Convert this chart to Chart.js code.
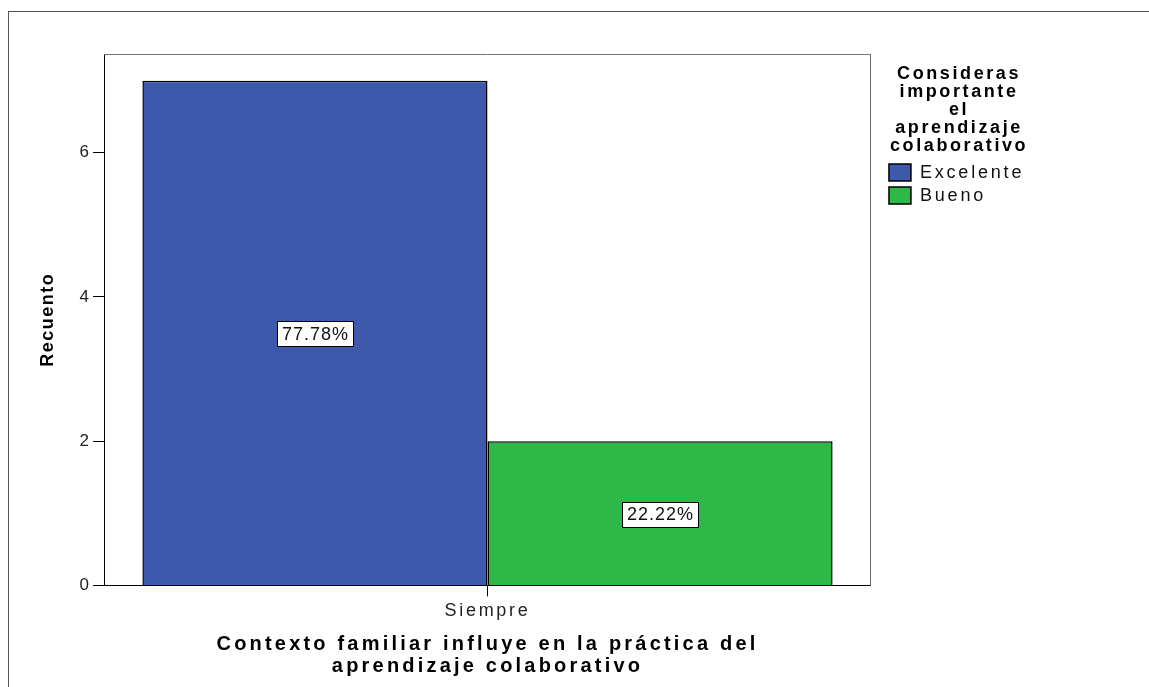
<!DOCTYPE html>
<html>
<head>
<meta charset="utf-8">
<style>
  html, body { margin: 0; padding: 0; background: #fff; overflow: hidden; }
  #frame { position: absolute; left: 8px; top: 11px; right: 0; bottom: 0;
           border-top: 1px solid #555; border-left: 1px solid #555; }
  #c { position: absolute; left: 0; top: 0; }
</style>
<script src="https://cdn.jsdelivr.net/npm/chart.js@4"></script>
</head>
<body>
<div id="frame"></div>
<canvas id="c" width="1149" height="687"></canvas>
<script>
// ---- data ----
const categories = ['Siempre'];
const seriesNames = ['Excelente', 'Bueno'];
const excelenteValues = [7];
const buenoValues = [2];
const yTickValues = [0, 2, 4, 6];
const yMax = 7.37;
const legendTitleLines = ['Consideras', 'importante', 'el', 'aprendizaje', 'colaborativo'];
const xTitleLines = ['Contexto familiar influye en la práctica del', 'aprendizaje colaborativo'];
const yTitleText = 'Recuento';
const seriesColors = ['#3E58AC', '#2EB848'];

// letter spacing helper: a pseudo family 'sp-N' in a font string sets N px tracking
(function () {
  const proto = CanvasRenderingContext2D.prototype;
  const d = Object.getOwnPropertyDescriptor(proto, 'font');
  Object.defineProperty(proto, 'font', {
    configurable: true,
    enumerable: d.enumerable,
    get() { return d.get.call(this); },
    set(v) {
      d.set.call(this, v);
      if ('letterSpacing' in this) {
        const m = /sp-([\d.]+)/.exec(v);
        this.letterSpacing = (m ? m[1] : '0') + 'px';
      }
    }
  });
})();
const fam = (sp) => "'Liberation Sans', 'sp-" + sp + "', Arial, sans-serif";

const allSeries = [excelenteValues, buenoValues];
const totals = categories.map((_, i) => allSeries.reduce((s, arr) => s + arr[i], 0));

const pctLabels = {
  id: 'pctLabels',
  afterDatasetsDraw(chart) {
    const ctx = chart.ctx;
    chart.data.datasets.forEach((ds, di) => {
      const meta = chart.getDatasetMeta(di);
      meta.data.forEach((bar, i) => {
        const v = ds.data[i];
        const txt = (v / totals[i] * 100).toFixed(2) + '%';
        const cx = bar.x;
        const cy = (bar.y + bar.base) / 2 + 1;
        ctx.save();
        ctx.font = "18px " + fam(1);
        const w = ctx.measureText(txt).width + 9;
        const h = 25;
        ctx.fillStyle = '#fff';
        ctx.fillRect(Math.round(cx - w / 2) + 0.5, Math.round(cy - h / 2) + 0.5, Math.round(w), h);
        ctx.strokeStyle = '#000';
        ctx.lineWidth = 1;
        ctx.strokeRect(Math.round(cx - w / 2) + 0.5, Math.round(cy - h / 2) + 0.5, Math.round(w), h);
        ctx.fillStyle = '#111';
        ctx.textAlign = 'center';
        ctx.textBaseline = 'middle';
        ctx.fillText(txt, cx + 0.5, cy + 1);
        ctx.restore();
      });
    });
  }
};

new Chart(document.getElementById('c'), {
  type: 'bar',
  data: {
    labels: categories,
    datasets: seriesNames.map((name, k) => ({
      label: name,
      data: allSeries[k],
      backgroundColor: seriesColors[k],
      borderColor: '#000',
      borderWidth: 1.5,
      categoryPercentage: 0.9,
      barPercentage: 1.0
    }))
  },
  options: {
    responsive: false,
    animation: false,
    devicePixelRatio: 1,
    layout: { padding: { top: 54, right: 114.8, bottom: 0, left: 10 } },
    plugins: {
      tooltip: { enabled: false },
      legend: {
        position: 'right',
        align: 'start',
        labels: {
          boxWidth: 22,
          boxHeight: 17,
          padding: 5,
          color: '#111',
          font: { size: 18, family: fam(2.8) }
        },
        title: {
          display: true,
          text: legendTitleLines,
          color: '#000',
          position: 'center',
          font: { size: 18, weight: 'bold', family: fam(2.6), lineHeight: '18px' },
          padding: { top: 11, bottom: 75.6 }
        }
      }
    },
    scales: {
      x: {
        position: 'bottom',
        grid: { display: true, drawOnChartArea: false, drawTicks: true, tickLength: 11, color: '#000', offset: false },
        border: { display: true, color: '#000', width: 1 },
        ticks: { color: '#222', padding: 4, font: { size: 18, family: fam(2.7) } },
        title: {
          display: true,
          text: xTitleLines,
          color: '#000',
          font: { size: 20, weight: 'bold', family: fam(3.2), lineHeight: '22px' },
          padding: { top: 7, bottom: 10 }
        }
      },
      y: {
        position: 'left',
        min: 0,
        max: yMax,
        afterBuildTicks(scale) { scale.ticks = yTickValues.map(v => ({ value: v })); },
        grid: { display: true, drawOnChartArea: false, drawTicks: true, tickLength: 11, color: '#000' },
        border: { display: true, color: '#000', width: 1 },
        ticks: { color: '#222', padding: 4, font: { size: 17, family: fam(0) } },
        title: {
          display: true,
          text: yTitleText,
          color: '#000',
          font: { size: 18, weight: 'bold', family: fam(1.5) },
          padding: { top: 27, bottom: 17 }
        }
      },
      x2: {
        type: 'linear',
        position: 'top',
        display: true,
        grid: { display: false },
        ticks: { display: false },
        border: { display: true, color: '#777', width: 1 },
        afterFit(scale) { scale.height = 0; }
      },
      y2: {
        type: 'linear',
        position: 'right',
        display: true,
        grid: { display: false },
        ticks: { display: false },
        border: { display: true, color: '#666', width: 1 },
        afterFit(scale) { scale.width = 13; }
      }
    }
  },
  plugins: [pctLabels]
});
</script>
</body>
</html>
